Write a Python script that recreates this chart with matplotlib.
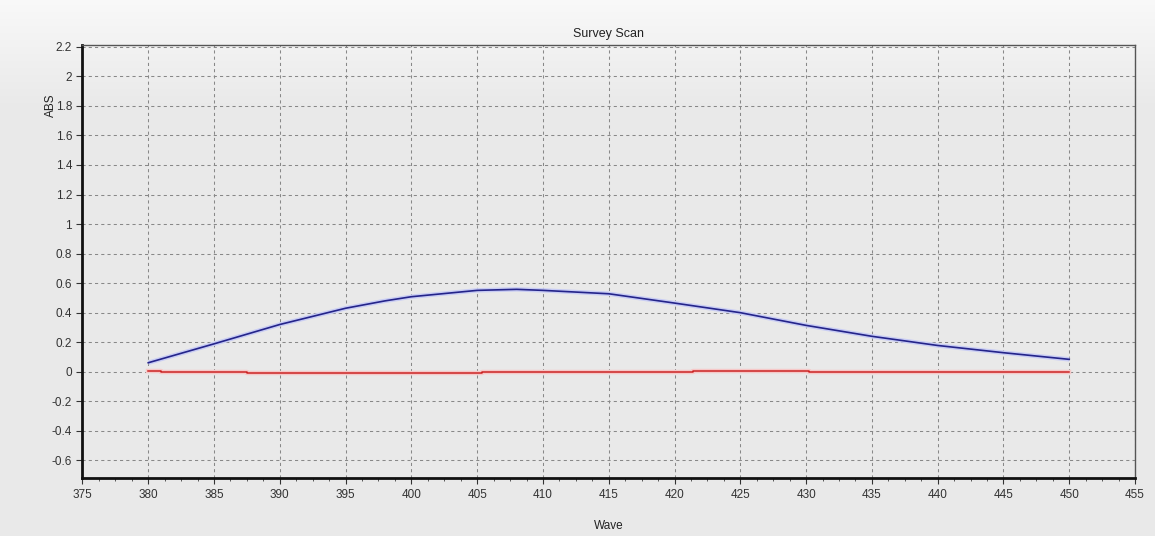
import numpy as np
import matplotlib
matplotlib.use("Agg")
import matplotlib.pyplot as plt
from matplotlib.ticker import MultipleLocator

plt.rcParams['font.family'] = ['Liberation Sans', 'DejaVu Sans']

# blue scan
wave = [380, 385, 390, 395, 398, 400, 405, 408, 410, 415, 420, 425, 430, 435, 440, 445, 450]
absb = [0.061, 0.189, 0.32, 0.43, 0.48, 0.508, 0.551, 0.558, 0.551, 0.528, 0.465, 0.40,
        0.314, 0.24, 0.178, 0.129, 0.084]

# red baseline, stepwise
wave_red = [380, 381, 387.5, 405.4, 421.4, 430.2, 450]
abs_red = [0.005, 0.0, -0.006, 0.0, 0.006, 0.0, 0.0]

xticks = list(range(375, 456, 5))
yticks = [round(-0.6 + 0.2 * i, 1) for i in range(15)]

fig = plt.figure(figsize=(11.55, 5.36), dpi=100)
fig.patch.set_facecolor('#e9e9e9')

# soft light background, whiter near the top
bg = fig.add_axes([0, 0, 1, 1], zorder=-5)
t = np.linspace(0, 1, 300)
g = np.where(t < 0.2, 0.975 - (0.975 - 0.915) * t / 0.2, 0.915)
img = np.repeat(g.reshape(-1, 1, 1), 3, axis=2)
bg.imshow(img, aspect='auto', extent=[0, 1, 0, 1], origin='upper')
bg.axis('off')

ax = fig.add_axes([0.0714, 0.108, 0.9113, 0.808])
ax.set_facecolor('none')

ax.plot(wave, absb, color='#c8ccf4', lw=3.2, solid_capstyle='butt', zorder=3)
ax.plot(wave, absb, color='#24248a', lw=1.2, zorder=4)
ax.plot(wave_red, abs_red, color='#f6c8c8', lw=3.2, drawstyle='steps-post', zorder=3)
ax.plot(wave_red, abs_red, color='#cc2424', lw=1.1, drawstyle='steps-post', zorder=4)

ax.set_xlim(375, 455)
ax.set_ylim(-0.72, 2.212)
ax.set_xticks(xticks)
ax.set_yticks(yticks)
ax.set_yticklabels([('%g' % v) for v in yticks])
ax.xaxis.set_minor_locator(MultipleLocator(1.25))

ax.grid(True, which='major', color='#888888', ls=(0, (3, 3)), lw=0.75)
ax.tick_params(axis='both', which='major', labelsize=8.5, labelcolor='#333333',
               color='#333333', length=4, width=0.8)
ax.tick_params(axis='x', which='minor', length=2.5, width=0.7, color='#555555')

for s in ['left', 'bottom']:
    ax.spines[s].set_linewidth(2)
    ax.spines[s].set_color('#111111')
for s in ['top', 'right']:
    ax.spines[s].set_linewidth(1)
    ax.spines[s].set_color('#555555')

ax.set_title('Survey Scan', fontsize=9, color='#222222', pad=6)
ax.set_xlabel('Wave', fontsize=8.5, color='#222222', labelpad=14)
ax.set_ylabel('ABS', fontsize=8.5, color='#222222', labelpad=4)
ax.yaxis.set_label_coords(-0.024, 0.86)

fig.savefig('out.png', dpi=100, facecolor=fig.get_facecolor())
